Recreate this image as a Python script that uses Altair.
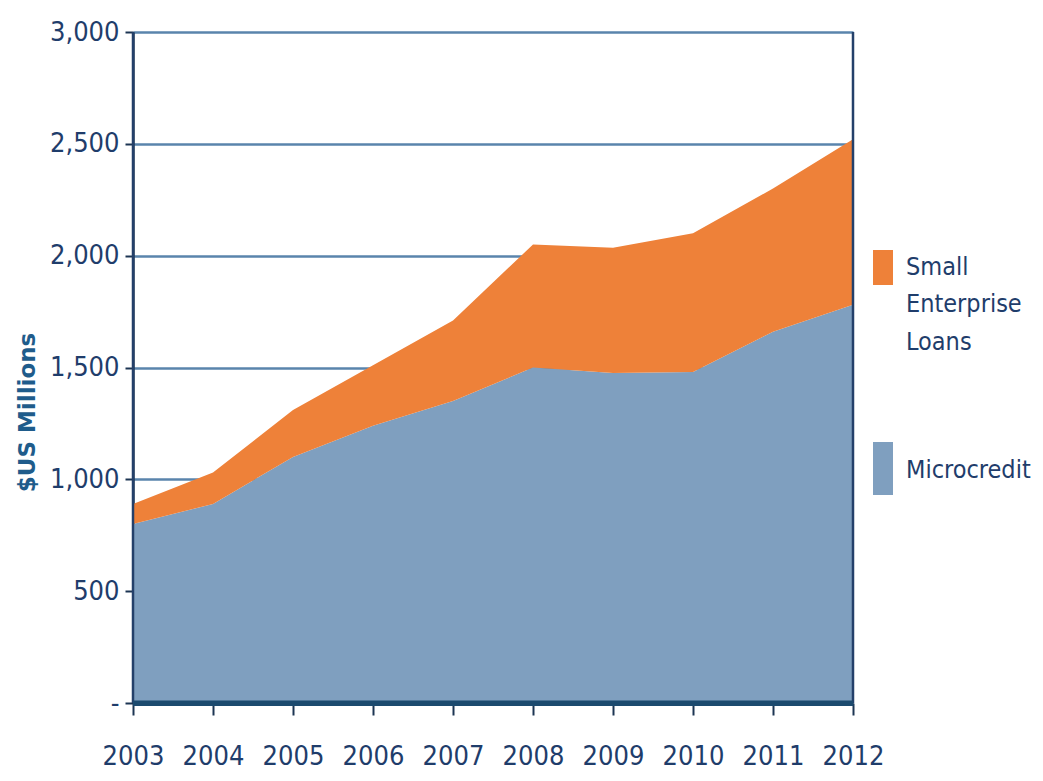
import altair as alt
import pandas as pd

years = [2003, 2004, 2005, 2006, 2007, 2008, 2009, 2010, 2011, 2012]
microcredit = [800, 890, 1100, 1240, 1350, 1500, 1475, 1480, 1660, 1780]
small_enterprise = [90, 140, 210, 270, 360, 550, 560, 620, 640, 740]
series_names = ["Microcredit", "Small Enterprise Loans"]
series_colors = ["#7f9fbf", "#ee8139"]
y_ticks = [0, 500, 1000, 1500, 2000, 2500, 3000]

rows = []
for i, yr in enumerate(years):
    rows.append({"year": yr, "series": series_names[0], "value": microcredit[i], "order": 0})
    rows.append({"year": yr, "series": series_names[1], "value": small_enterprise[i], "order": 1})
df = pd.DataFrame(rows)

FONT = "'Liberation Sans Narrow', 'DejaVu Sans Condensed', 'Roboto Condensed', 'Liberation Sans', sans-serif"
TXT = "#1f3d6b"

xscale = alt.Scale(domain=[2003, 2012], nice=False)
yscale = alt.Scale(domain=[0, 3000], nice=False)

area = alt.Chart(df).mark_area(interpolate="linear", opacity=1).encode(
    x=alt.X("year:Q", scale=xscale,
            axis=alt.Axis(values=years, format="d", title=None, grid=False,
                          labelFontSize=27, labelColor=TXT, labelFont=FONT,
                          labelPadding=28, tickSize=12, tickWidth=2, tickColor="#1c3553",
                          domainColor="#1c4a6e", domainWidth=5, labelFlush=False)),
    y=alt.Y("value:Q", stack="zero", scale=yscale,
            axis=alt.Axis(values=y_ticks, title="$US Millions",
                          labelExpr="datum.value == 0 ? '-' : format(datum.value, ',')",
                          labelFontSize=27, labelColor=TXT, labelFont=FONT,
                          labelPadding=6, tickSize=8, tickWidth=2, tickColor="#1c3553",
                          domainColor="#1c3553", domainWidth=2.5, labelOverlap=False,
                          grid=True, gridColor="#5a84ac", gridWidth=2.5,
                          titleFont="DejaVu Sans", titleFontSize=23, titleFontWeight="bold",
                          titleColor="#1f5c8b", titlePadding=10, titleY=380, titleAngle=270)),
    color=alt.Color("series:N", scale=alt.Scale(domain=series_names, range=series_colors), legend=None),
    order=alt.Order("order:Q"),
)

# frame lines drawn on top of the area
edges = pd.DataFrame({"year": [2003, 2012]})
vrules = alt.Chart(edges).mark_rule(color="#24406a", strokeWidth=2.5).encode(
    x=alt.X("year:Q", scale=xscale), y=alt.value(0), y2=alt.value(671)
)
base_line = alt.Chart(pd.DataFrame({"v": [0]})).mark_rule(color="#1c4a6e", strokeWidth=5).encode(
    y=alt.Y("v:Q", scale=yscale), x=alt.value(0), x2=alt.value(720)
)

# manual legend
leg_items = pd.DataFrame({
    "series": ["Small Enterprise Loans", "Microcredit"],
    "y0": [218, 410], "y1": [253, 463],
})
leg_rect = alt.Chart(leg_items).mark_rect().encode(
    x=alt.value(740), x2=alt.value(760),
    y=alt.Y("y0:Q", scale=None), y2="y1:Q",
    color=alt.Color("series:N", scale=alt.Scale(domain=series_names, range=series_colors), legend=None),
)
leg_text_df = pd.DataFrame({
    "label": ["Small", "Enterprise", "Loans", "Microcredit"],
    "ty": [235, 272, 310, 438],
})
leg_text = alt.Chart(leg_text_df).mark_text(
    align="left", baseline="middle", font=FONT, fontSize=25, color=TXT
).encode(
    x=alt.value(773),
    y=alt.Y("ty:Q", scale=None),
    text="label:N",
)

chart = alt.layer(area, vrules, base_line, leg_rect, leg_text).properties(
    width=720, height=671,
    autosize=alt.AutoSizeParams(type="none"),
    padding={"left": 125, "top": 24, "right": 180, "bottom": 76},
).configure_view(stroke="#2a3f66", strokeWidth=2.5).configure(background="white")

chart.save("out.html", embed_options={"renderer": "svg", "actions": False})
